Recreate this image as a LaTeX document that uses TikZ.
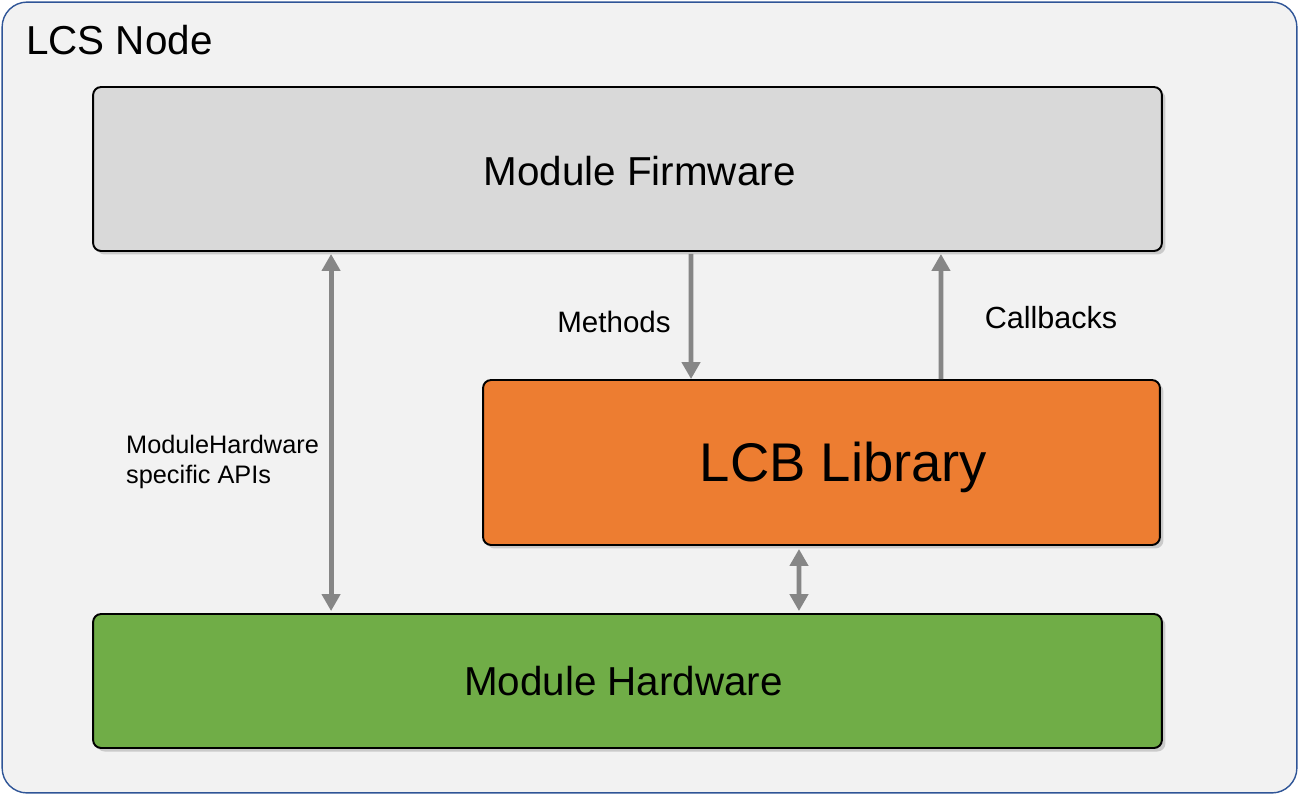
\documentclass[tikz,border=0pt]{standalone}
\usepackage{fontspec}
\setmainfont{Liberation Sans}
\usetikzlibrary{arrows.meta,shadows}

\definecolor{paneback}{HTML}{F2F2F2}
\definecolor{paneedge}{HTML}{2F5597}
\definecolor{fwgray}{HTML}{D9D9D9}
\definecolor{lcborange}{HTML}{ED7D31}
\definecolor{hwgreen}{HTML}{70AD47}
\definecolor{linkgray}{HTML}{868686}

\tikzset{
  block/.style = {draw = black, line width = 1.1pt, rounded corners = 0.16cm,
    drop shadow = {shadow xshift = 0.07cm, shadow yshift = -0.07cm, opacity = 0.35},
    font = \fontsize{23}{27}\selectfont, align = center},
  link/.style = {draw = linkgray, line width = 2.8pt,
    arrows = {-Triangle[length = 0.34cm, width = 0.36cm]}},
  twolink/.style = {link, arrows = {Triangle[length = 0.34cm, width = 0.36cm]-Triangle[length = 0.34cm, width = 0.36cm]}},
  tag/.style = {font = \fontsize{16.8}{17}\selectfont, align = left}
}

\begin{document}
\begin{tikzpicture}[x = 0.02cm, y = -0.02cm]
		\path[use as bounding box] (0,0) rectangle (1300,795);
		% outer node frame
		\node (pane) [draw = paneedge, fill = paneback, line width = 0.8pt, rounded corners = 0.5cm,
			minimum width = 25.9cm, minimum height = 15.82cm] at (649.5,397.5) {};
		\node (title) [anchor = west, font = \fontsize{23}{27}\selectfont] at (20,40) {LCS Node};

		% blocks
		\node (firmware) [block, fill = fwgray, minimum width = 21.38cm, minimum height = 3.28cm] at (627.5,169) {\hspace*{0.48cm}\raisebox{0pt}[\dimexpr\height+0.08cm]{Module Firmware}};
		\node (lcb) [block, fill = lcborange, minimum width = 13.54cm, minimum height = 3.3cm,
			font = \fontsize{31}{34}\selectfont] at (821.5,462.5) {\hspace*{0.88cm}\raisebox{0pt}[\dimexpr\height+0.2cm]{LCB Library}};
		\node (hardware) [block, fill = hwgreen, minimum width = 21.38cm, minimum height = 2.68cm] at (627.5,681) {Module Hardware\hspace*{0.16cm}};

		% connectors
		\draw[twolink] ([xshift = -5.93cm, yshift = -0.04cm]firmware.south) -- ([xshift = -5.93cm, yshift = 0.04cm]hardware.north);
		\draw[link] ([xshift = 1.27cm, yshift = -0.04cm]firmware.south) -- ([xshift = -2.61cm]lcb.north);
		\draw[link] ([xshift = 2.39cm]lcb.north) -- ([xshift = 6.27cm, yshift = -0.04cm]firmware.south);
		\draw[twolink] ([xshift = -0.45cm, yshift = -0.06cm]lcb.south) -- ([xshift = 3.43cm, yshift = 0.04cm]hardware.north);

		% labels
		\node (methods) [tag] at (614,322) {Methods};
		\node (callbacks) [tag, font = \fontsize{17.4}{17}\selectfont] at (1051,318) {Callbacks};
		\node (apis) [tag, anchor = west, font = \fontsize{14.4}{17}\selectfont] at (120,462) {ModuleHardware\\specific APIs};
	\end{tikzpicture}
\end{document}
